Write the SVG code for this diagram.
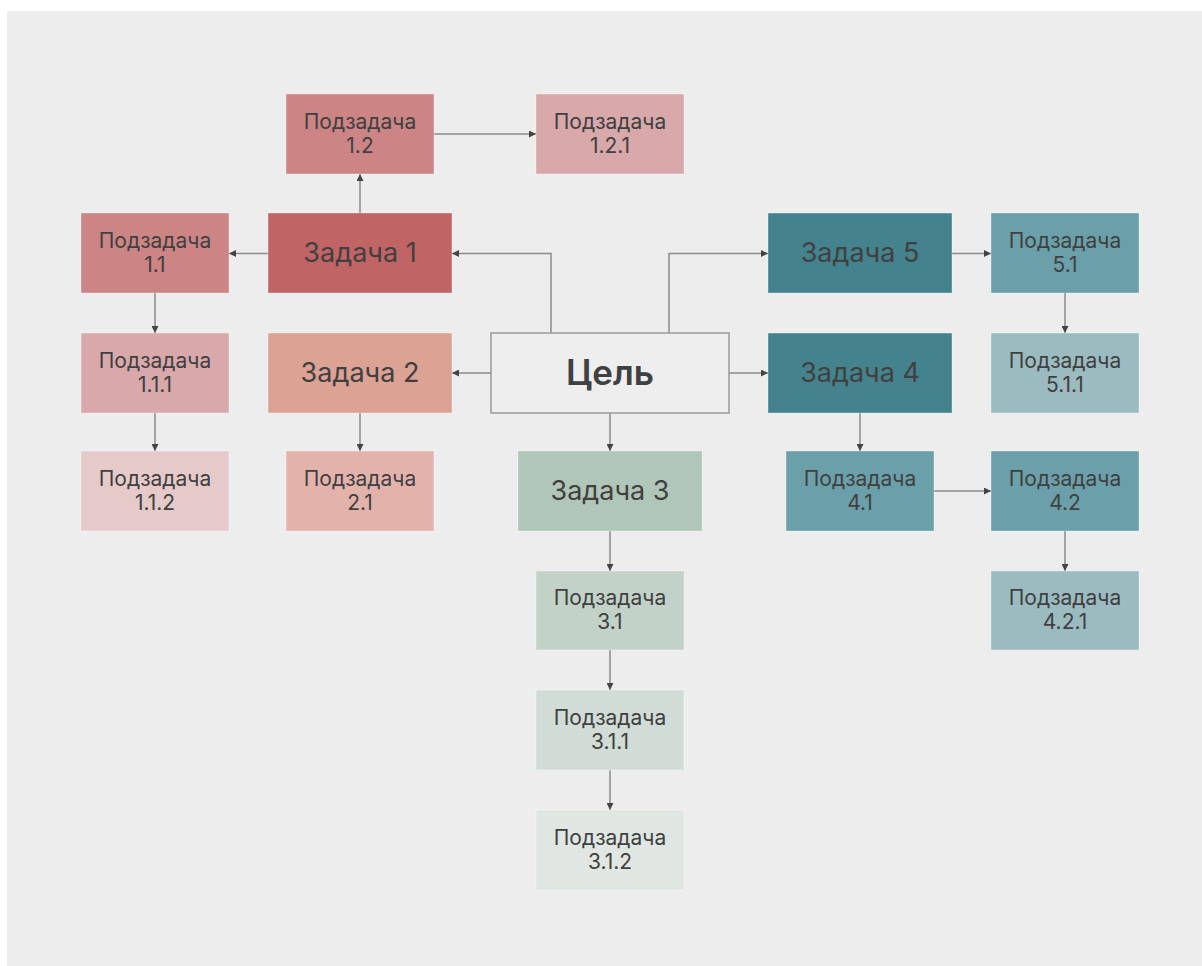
<svg xmlns="http://www.w3.org/2000/svg" width="1202" height="966" viewBox="0 0 1202 966">
<defs>
<style>
.n rect{stroke:rgba(255,255,255,0.35);stroke-width:1}
.t{font-family:Inter,"Noto Sans","Liberation Sans",sans-serif;fill:#404040;text-anchor:middle}
.s{font-size:21px}
.b{font-size:27px}
.c path{fill:none;stroke:#8a8a8a;stroke-width:1.5;marker-end:url(#ah)}
</style>
<marker id="ah" viewBox="0 0 10 10" refX="10" refY="5" markerWidth="7" markerHeight="7" markerUnits="userSpaceOnUse" orient="auto">
<path d="M0,0 L10,5 L0,10 Z" fill="#444"/>
</marker>
</defs>
<rect x="0" y="0" width="1202" height="966" fill="#ffffff"/>
<rect x="7" y="11" width="1195" height="955" fill="#ededed"/>

<g id="connectors" class="c">
<path d="M551,333 V253.5 H452"/>
<path d="M669,333 V253.5 H768"/>
<path d="M491,373 H452"/>
<path d="M729,373 H768"/>
<path d="M610,413 V451"/>
<path d="M360,213 V174"/>
<path d="M434,134 H536"/>
<path d="M268,253.5 H229"/>
<path d="M155,293 V333"/>
<path d="M155,413 V451"/>
<path d="M360,413 V451"/>
<path d="M610,531 V571"/>
<path d="M610,650 V690"/>
<path d="M610,770 V810"/>
<path d="M952,253.5 H991"/>
<path d="M1065,293 V333"/>
<path d="M860,413 V451"/>
<path d="M934,491 H991"/>
<path d="M1065,531 V571"/>
</g>

<g id="goal">
<rect x="491" y="333" width="238" height="80" fill="#eeeeee" stroke="#9a9a9a" stroke-width="1.5"/>
<text class="t" x="610" y="385" font-size="35" font-weight="600">Цель</text>
</g>

<g id="task1" class="n">
<rect x="268" y="213" width="184" height="80" fill="#c06465"/>
<text class="t b" x="360" y="262">Задача 1</text>
</g>
<g id="sub1_2" class="n">
<rect x="286" y="94" width="148" height="80" fill="#cc8485"/>
<text class="t s" x="360" y="129">Подзадача</text>
<text class="t s" x="360" y="153">1.2</text>
</g>
<g id="sub1_2_1" class="n">
<rect x="536" y="94" width="148" height="80" fill="#d8a8aa"/>
<text class="t s" x="610" y="129">Подзадача</text>
<text class="t s" x="610" y="153">1.2.1</text>
</g>
<g id="sub1_1" class="n">
<rect x="81" y="213" width="148" height="80" fill="#cc8485"/>
<text class="t s" x="155" y="248">Подзадача</text>
<text class="t s" x="155" y="272">1.1</text>
</g>
<g id="sub1_1_1" class="n">
<rect x="81" y="333" width="148" height="80" fill="#d8a8aa"/>
<text class="t s" x="155" y="368">Подзадача</text>
<text class="t s" x="155" y="392">1.1.1</text>
</g>
<g id="sub1_1_2" class="n">
<rect x="81" y="451" width="148" height="80" fill="#e6caca"/>
<text class="t s" x="155" y="486">Подзадача</text>
<text class="t s" x="155" y="510">1.1.2</text>
</g>

<g id="task2" class="n">
<rect x="268" y="333" width="184" height="80" fill="#dca294"/>
<text class="t b" x="360" y="382">Задача 2</text>
</g>
<g id="sub2_1" class="n">
<rect x="286" y="451" width="148" height="80" fill="#e3b3ab"/>
<text class="t s" x="360" y="486">Подзадача</text>
<text class="t s" x="360" y="510">2.1</text>
</g>

<g id="task3" class="n">
<rect x="518" y="451" width="184" height="80" fill="#b0c6b8"/>
<text class="t b" x="610" y="500">Задача 3</text>
</g>
<g id="sub3_1" class="n">
<rect x="536" y="571" width="148" height="79" fill="#c2d2c8"/>
<text class="t s" x="610" y="605">Подзадача</text>
<text class="t s" x="610" y="629">3.1</text>
</g>
<g id="sub3_1_1" class="n">
<rect x="536" y="690" width="148" height="80" fill="#d0dcd5"/>
<text class="t s" x="610" y="725">Подзадача</text>
<text class="t s" x="610" y="749">3.1.1</text>
</g>
<g id="sub3_1_2" class="n">
<rect x="536" y="810" width="148" height="80" fill="#e0e6e2"/>
<text class="t s" x="610" y="845">Подзадача</text>
<text class="t s" x="610" y="869">3.1.2</text>
</g>

<g id="task5" class="n">
<rect x="768" y="213" width="184" height="80" fill="#44838d"/>
<text class="t b" x="860" y="262">Задача 5</text>
</g>
<g id="sub5_1" class="n">
<rect x="991" y="213" width="148" height="80" fill="#6ba0aa"/>
<text class="t s" x="1065" y="248">Подзадача</text>
<text class="t s" x="1065" y="272">5.1</text>
</g>
<g id="sub5_1_1" class="n">
<rect x="991" y="333" width="148" height="80" fill="#9bbbc0"/>
<text class="t s" x="1065" y="368">Подзадача</text>
<text class="t s" x="1065" y="392">5.1.1</text>
</g>

<g id="task4" class="n">
<rect x="768" y="333" width="184" height="80" fill="#44838d"/>
<text class="t b" x="860" y="382">Задача 4</text>
</g>
<g id="sub4_1" class="n">
<rect x="786" y="451" width="148" height="80" fill="#6ba0aa"/>
<text class="t s" x="860" y="486">Подзадача</text>
<text class="t s" x="860" y="510">4.1</text>
</g>
<g id="sub4_2" class="n">
<rect x="991" y="451" width="148" height="80" fill="#6ba0aa"/>
<text class="t s" x="1065" y="486">Подзадача</text>
<text class="t s" x="1065" y="510">4.2</text>
</g>
<g id="sub4_2_1" class="n">
<rect x="991" y="571" width="148" height="79" fill="#9bbbc0"/>
<text class="t s" x="1065" y="605">Подзадача</text>
<text class="t s" x="1065" y="629">4.2.1</text>
</g>
</svg>
